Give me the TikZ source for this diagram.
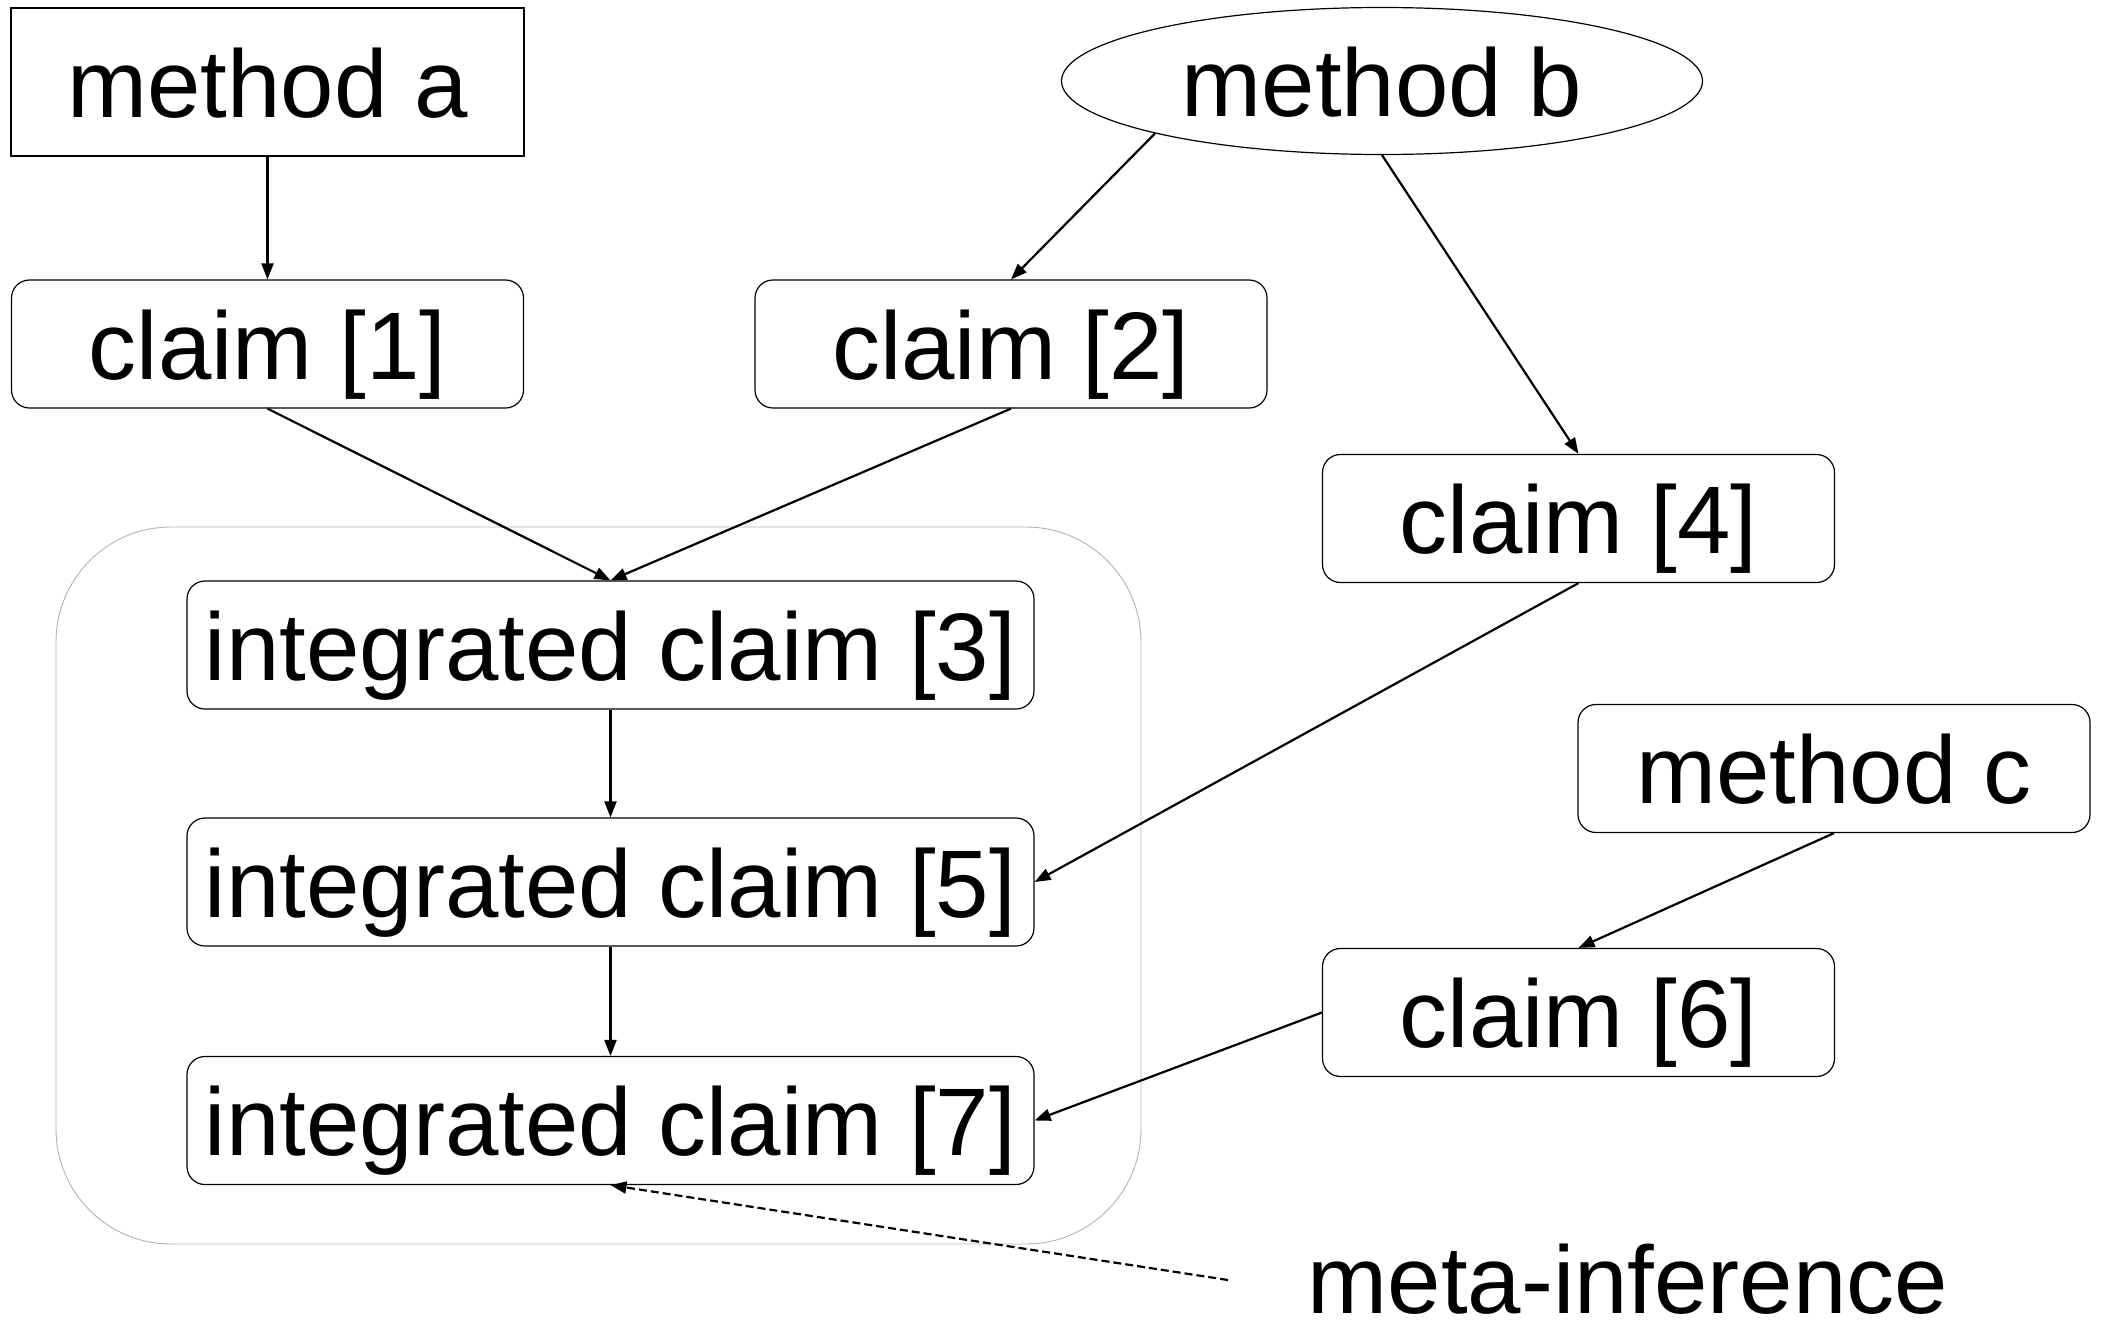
\documentclass[tikz,border=0pt]{standalone}
\usepackage{fontspec}
\setmainfont{Liberation Sans}
\usetikzlibrary{arrows.meta,shapes.geometric}
\begin{document}
\begin{tikzpicture}[x=1pt,y=-1pt,
  every node/.style={font=\fontsize{96}{110}\selectfont, inner sep=0pt, text height=70pt, text depth=0pt},
  sqbox/.style={draw, line width=1.2pt, minimum width=513pt, minimum height=148pt},
  rbox/.style={draw, line width=1.2pt, rounded corners=18pt, minimum width=512pt, minimum height=128pt},
  wbox/.style={rbox, minimum width=847pt},
  ebox/.style={draw, ellipse, line width=1.2pt, minimum width=641pt, minimum height=147pt},
  arr/.style={line width=2.2pt, -{Triangle[length=16pt,width=12pt]}},
  darr/.style={arr, dash pattern=on 8pt off 4pt},
  grp/.style={draw=gray!60, line width=0.9pt, rounded corners=115pt}
]
\useasboundingbox (0,0) rectangle (2101,1320);
\draw[grp] (56,527) rectangle (1141,1244);
\node[sqbox] (ma) at (267.5,82) {method a};
\node[ebox]  (mb) at (1382,81) {method b};
\node[rbox]  (c1) at (267.5,344) {claim [1]};
\node[rbox]  (c2) at (1011,344) {claim [2]};
\node[rbox]  (c4) at (1578.5,518.5) {claim [4]};
\node[wbox]  (i3) at (610.5,645) {integrated claim [3]};
\node[wbox]  (i5) at (610.5,882) {integrated claim [5]};
\node[wbox]  (i7) at (610.5,1120.5) {integrated claim [7]};
\node[rbox]  (mc) at (1834,768.5) {method c};
\node[rbox]  (c6) at (1578.5,1012.5) {claim [6]};
\node[anchor=base] (meta) at (1628,1313) {meta-inference};
\coordinate (mstart) at (1228,1280);

\draw[arr] (ma.south) -- (c1.north);
\draw[arr] (mb.193) -- (c2.north);
\draw[arr] (mb.south) -- (c4.north);
\draw[arr] (c1.south) -- (i3.north);
\draw[arr] (c2.south) -- (i3.north);
\draw[arr] (i3.south) -- (i5.north);
\draw[arr] (i5.south) -- (i7.north);
\draw[arr] (c4.south) -- (i5.east);
\draw[arr] (mc.south) -- (c6.north);
\draw[arr] (c6.west) -- (i7.east);
\draw[darr] (mstart) -- (i7.south);
\end{tikzpicture}
\end{document}
